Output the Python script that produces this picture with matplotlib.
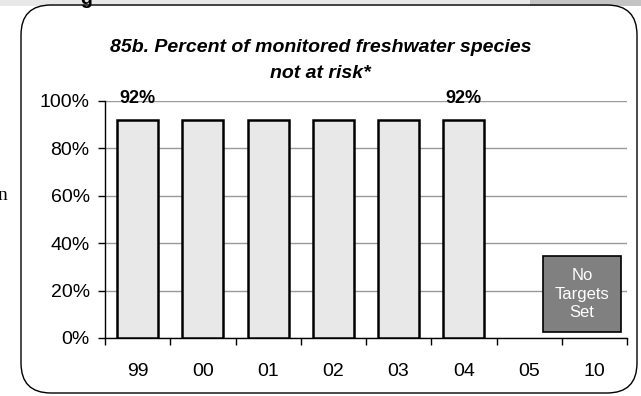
import matplotlib.pyplot as plt
from matplotlib.patches import FancyBboxPatch, Rectangle

plt.rcParams['font.family'] = ['Liberation Sans', 'DejaVu Sans']

# data
years = ['99', '00', '01', '02', '03', '04', '05', '10']
pct = [92, 92, 92, 92, 92, 92, None, None]
label_idx = [0, 5]  # bars that carry a value label
yticks = [0, 20, 40, 60, 80, 100]
title = '85b. Percent of monitored freshwater species\nnot at risk*'
note = 'No\nTargets\nSet'

fig = plt.figure(figsize=(6.41, 3.96), dpi=100)

# bits of the surrounding page
fig.patches.append(Rectangle((0, 390 / 396), 1, 6 / 396, transform=fig.transFigure,
                             facecolor='#e8e8e8', edgecolor='none', zorder=0))
fig.patches.append(Rectangle((530 / 641, 390 / 396), 111 / 641, 6 / 396, transform=fig.transFigure,
                             facecolor='#c4c4c4', edgecolor='none', zorder=0))
fig.text(80 / 641, 1.0, 'g', fontsize=14, fontweight='bold', va='center', ha='left')
fig.text(-0.004, 1 - 195 / 396, 'n', fontsize=14, family='Liberation Serif', va='center', ha='left')

# rounded frame
frame = FancyBboxPatch((0.21, 0.03), 6.16, 3.88, boxstyle='round,pad=0,rounding_size=0.3',
                       transform=fig.dpi_scale_trans, facecolor='none', edgecolor='black',
                       linewidth=1.0)
fig.patches.append(frame)

ax = fig.add_axes([105 / 641, 1 - 338 / 396, 522 / 641, 237 / 396])
x = list(range(len(years)))
xs = [i for i, v in zip(x, pct) if v is not None]
vs = [v for v in pct if v is not None]
ax.bar(xs, vs, width=0.63, color='#e8e8e8', edgecolor='black', linewidth=1.8, zorder=3)

for i in label_idx:
    ax.text(i, 99.2, f'{pct[i]}%', ha='center', va='baseline', fontsize=13,
            fontweight='bold', zorder=4)

ax.set_xlim(-0.5, len(years) - 0.5)
ax.set_ylim(0, 100)
ax.set_yticks(yticks)
ax.set_yticklabels([f'{t}%' for t in yticks], fontsize=14)
ax.set_xticks(x)
ax.set_xticklabels(years, fontsize=14)
ax.set_xticks([i - 0.5 for i in range(len(years) + 1)], minor=True)
ax.tick_params(axis='x', which='major', length=0, pad=18)
ax.tick_params(axis='x', which='minor', length=5, direction='out', width=1)
ax.tick_params(axis='y', length=5, direction='out', width=1, pad=6)
ax.yaxis.grid(True, color='#999999', linewidth=1, zorder=0)
ax.set_axisbelow(True)
for s in ['top', 'right']:
    ax.spines[s].set_visible(False)
for s in ['left', 'bottom']:
    ax.spines[s].set_linewidth(1)

# "No Targets Set" box in the last slot
ax.add_patch(Rectangle((6.21, 2.5), 1.2, 32.1, facecolor='#808080', edgecolor='black',
                       linewidth=1.2, zorder=3))
ax.text(6.81, 18.5, note, ha='center', va='center', color='white', fontsize=12,
        linespacing=1.3, zorder=4)

fig.text(0.5, 1 - 47 / 396, title.split('\n')[0], ha='center', va='center',
         fontsize=14, fontweight='bold', style='italic')
fig.text(0.5, 1 - 73 / 396, title.split('\n')[1], ha='center', va='center',
         fontsize=14, fontweight='bold', style='italic')

fig.savefig('out.png', dpi=100)
